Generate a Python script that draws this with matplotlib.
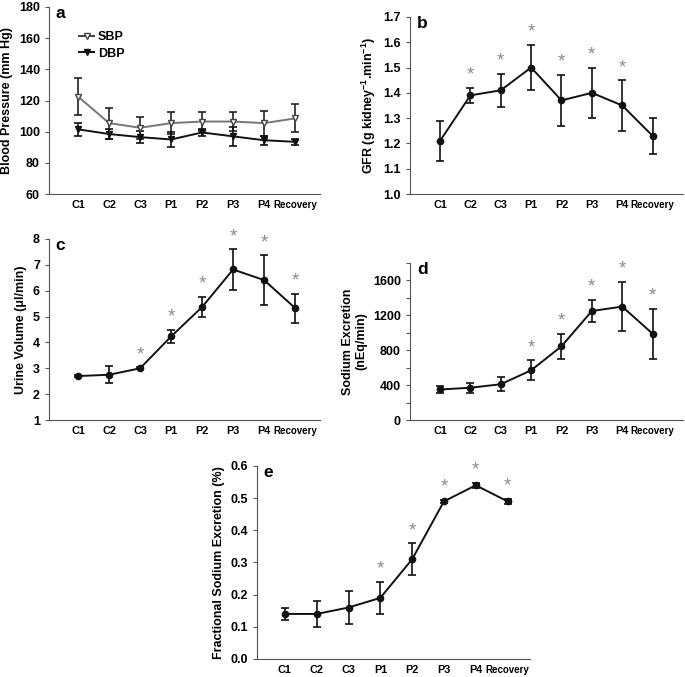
import matplotlib
matplotlib.use("Agg")
import matplotlib.pyplot as plt
from matplotlib.lines import Line2D
from matplotlib.ticker import MultipleLocator

plt.rcParams['font.family'] = ['Liberation Sans', 'DejaVu Sans']
plt.rcParams['font.weight'] = 'bold'
plt.rcParams['mathtext.fontset'] = 'custom'
plt.rcParams['mathtext.rm'] = 'Liberation Sans:bold'
plt.rcParams['mathtext.bf'] = 'Liberation Sans:bold'
plt.rcParams['mathtext.default'] = 'bf'

periodes = ["C1", "C2", "C3", "P1", "P2", "P3", "P4", "Recovery"]

sbp = [122.5, 105.5, 102.5, 105.5, 106.5, 106.5, 105.5, 108.5]
sbp_err = [12, 10, 7, 7, 6, 6, 8, 9]
dbp = [101.5, 98.5, 96.5, 95, 99.5, 97, 94.5, 93.5]
dbp_err = [4, 3, 4, 5, 2.5, 6, 3, 2]

gfr = [1.21, 1.39, 1.41, 1.50, 1.37, 1.40, 1.35, 1.23]
gfr_err = [0.08, 0.03, 0.065, 0.09, 0.10, 0.10, 0.10, 0.07]
gfr_sig = [False, True, True, True, True, True, True, False]

urine = [2.7, 2.75, 3.0, 4.23, 5.37, 6.82, 6.41, 5.33]
urine_err = [0.03, 0.32, 0.04, 0.25, 0.4, 0.78, 0.96, 0.56]
urine_sig = [False, False, True, True, True, True, True, True]

sodium = [350, 370, 410, 570, 845, 1250, 1300, 990]
sodium_err = [45, 60, 80, 115, 140, 130, 285, 285]
sodium_sig = [False, False, False, True, True, True, True, True]

fena = [0.14, 0.14, 0.16, 0.19, 0.31, 0.49, 0.54, 0.49]
fena_err = [0.02, 0.04, 0.05, 0.05, 0.05, 0.005, 0.007, 0.007]
fena_sig = [False, False, False, True, True, True, True, True]

fig = plt.figure(figsize=(6.85, 6.77), dpi=100)
x = list(range(len(periodes)))
gris_axe = '#555555'


def preparer(ax, ylim, pas, ylabel, lettre, xlim=(-0.94, 7.8), taille_label=9):
    ax.set_xlim(*xlim)
    ax.set_ylim(*ylim)
    ax.yaxis.set_major_locator(MultipleLocator(pas))
    ax.set_xticks(x)
    labels = ax.set_xticklabels(periodes, fontsize=7.8, fontweight='bold')
    labels[-1].set_fontsize(7)
    ax.tick_params(axis='x', length=0, pad=4)
    ax.tick_params(axis='y', labelsize=9, length=3, width=0.8, color=gris_axe, direction='out')
    for lab in ax.get_yticklabels():
        lab.set_fontweight('bold')
    ax.spines['top'].set_visible(False)
    ax.spines['right'].set_visible(False)
    for s in ('left', 'bottom'):
        ax.spines[s].set_color(gris_axe)
        ax.spines[s].set_linewidth(0.8)
    ax.set_ylabel(ylabel, fontsize=taille_label, fontweight='bold')
    ax.text(0.025, 1.005, lettre, transform=ax.transAxes, fontsize=12.5,
            fontweight='bold', va='top', ha='left')


def courbe(ax, y, err, sig=None):
    ax.errorbar(x, y, yerr=err, color='#111111', lw=1.4, marker='o', ms=4.5,
                capsize=2.6, elinewidth=1.2, capthick=1.2)
    if sig is None:
        return
    for xi, yi, ei, s in zip(x, y, err, sig):
        if s:
            ax.annotate('*', (xi, yi + ei), xytext=(0, 3), textcoords='offset points',
                        ha='center', va='bottom', fontsize=13.5, color='#8a8a8a',
                        fontweight='normal')


# a
ax_a = fig.add_axes([0.0715, 0.7134, 0.3955, 0.2763])
ax_a.errorbar(x, sbp, yerr=sbp_err, color='#777777', lw=1.4, marker='v', ms=5,
              mfc='white', mec='#444444', capsize=2.6, elinewidth=1.2,
              ecolor='#222222', capthick=1.2)
ax_a.errorbar(x, dbp, yerr=dbp_err, color='#111111', lw=1.4, marker='v', ms=5,
              capsize=2.6, elinewidth=1.2, capthick=1.2)
preparer(ax_a, (60, 180), 20, 'Blood Pressure (mm Hg)', 'a')
poignees = [
    Line2D([], [], color='#444444', lw=1.4, marker='v', ms=5, mfc='white', mec='#444444'),
    Line2D([], [], color='#111111', lw=1.4, marker='v', ms=5),
]
leg = ax_a.legend(poignees, ['SBP', 'DBP'], loc='upper left', bbox_to_anchor=(0.07, 0.93),
                  frameon=False, fontsize=9, handlelength=1.2, handletextpad=0.3,
                  labelspacing=0.35)
for t in leg.get_texts():
    t.set_fontweight('bold')

# b
ax_b = fig.add_axes([0.5985, 0.7134, 0.3985, 0.2616])
courbe(ax_b, gfr, gfr_err, gfr_sig)
preparer(ax_b, (1.0, 1.7), 0.1, r'GFR (g kidney$^{-1}$.min$^{-1}$)', 'b', xlim=(-0.99, 8.0))

# c
ax_c = fig.add_axes([0.0715, 0.3796, 0.3955, 0.2674])
courbe(ax_c, urine, urine_err, urine_sig)
preparer(ax_c, (1, 8), 1, 'Urine Volume (μl/min)', 'c')

# d
ax_d = fig.add_axes([0.5985, 0.3796, 0.3985, 0.2319])
courbe(ax_d, sodium, sodium_err, sodium_sig)
preparer(ax_d, (0, 1800), 400, 'Sodium Excretion\n(nEq/min)', 'd', xlim=(-0.99, 8.0))
ax_d.yaxis.set_minor_locator(MultipleLocator(200))
ax_d.tick_params(axis='y', which='minor', length=3, width=0.8, color=gris_axe)

# e
ax_e = fig.add_axes([0.375, 0.0266, 0.3985, 0.2851])
courbe(ax_e, fena, fena_err, fena_sig)
preparer(ax_e, (0.0, 0.6), 0.1, 'Fractional Sodium Excretion (%)', 'e', xlim=(-0.88, 7.7))
ax_e.yaxis.set_major_formatter(plt.FormatStrFormatter('%.1f'))
for lab in ax_e.get_yticklabels():
    lab.set_fontweight('bold')

fig.savefig('out.png', dpi=100)
